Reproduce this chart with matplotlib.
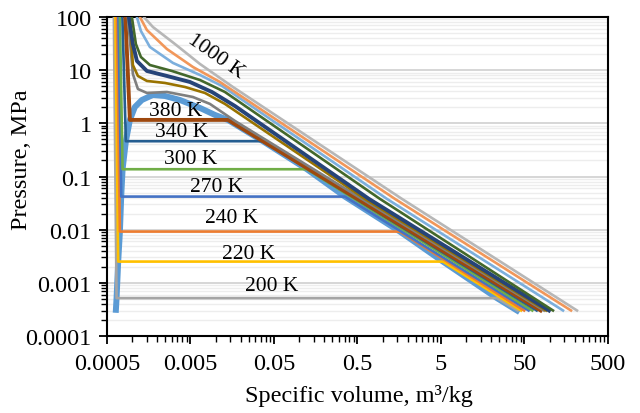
import matplotlib
matplotlib.use("Agg")
import matplotlib.pyplot as plt
from matplotlib.ticker import LogLocator, FixedLocator, FixedFormatter, NullFormatter

plt.rcParams['font.family'] = ['Liberation Serif', 'DejaVu Serif']

# saturation dome (v in m3/kg, P in MPa)
dome_v = [0.000641, 0.000653, 0.000683, 0.000716, 0.000742, 0.000771, 0.000844, 0.000943,
          0.001082, 0.001313, 0.001778, 0.002475, 0.003743, 0.006497, 0.009826, 0.01406,
          0.0369, 0.1242, 0.354, 1.61, 5.28, 23.4, 40.7]
dome_p = [0.000311, 0.000516, 0.00251, 0.00921, 0.0419, 0.137, 0.461, 1.16,
          2.03, 2.75, 3.42, 3.27, 2.75, 1.95, 1.44, 1.16,
          0.461, 0.137, 0.0419, 0.00921, 0.00251, 0.000516, 0.000302]

# subcritical isotherms: top of liquid branch, sat. liquid, sat. vapour, low-pressure end
v_200 = [0.000606, 0.000653, 23.4, 41.5]
p_200 = [100, 0.000516, 0.000516, 0.000302]
v_220 = [0.000632, 0.000683, 5.28, 45.5]
p_220 = [100, 0.00251, 0.00251, 0.000302]
v_240 = [0.000659, 0.000716, 1.61, 49.5]
p_240 = [100, 0.00921, 0.00921, 0.000302]
v_270 = [0.000687, 0.000742, 0.354, 56.0]
p_270 = [100, 0.0419, 0.0419, 0.000302]
v_300 = [0.000716, 0.000771, 0.1242, 62.0]
p_300 = [100, 0.137, 0.137, 0.000302]
v_340 = [0.000767, 0.000844, 0.0369, 70.0]
p_340 = [100, 0.461, 0.461, 0.000302]
v_380 = [0.000833, 0.000943, 0.01406, 78.0]
p_380 = [100, 1.16, 1.16, 0.000302]

# supercritical isotherms (unlabelled except 1000 K)
v_sc1 = [0.000892, 0.001024, 0.001176, 0.001507, 0.002616, 0.005356, 0.008559, 0.01706, 0.566, 85.6]
p_sc1 = [100, 8.48, 4.43, 3.73, 3.89, 3.13, 2.32, 1.11, 0.0379, 0.000302]
v_sc2 = [0.000943, 0.001024, 0.001176, 0.001507, 0.002475, 0.004296, 0.007459, 0.012946, 0.615, 90.5]
p_sc2 = [100, 12.5, 7.78, 6.27, 5.75, 4.83, 3.73, 2.32, 0.0379, 0.000302]
v_sc3 = [0.000917, 0.001024, 0.001144, 0.001507, 0.002616, 0.004932, 0.009046, 0.01706, 0.6867, 98.3]
p_sc3 = [100, 31.1, 14.9, 9.66, 7.78, 6.0, 3.89, 2.12, 0.0379, 0.000302]
v_sc4 = [0.000996, 0.001112, 0.001277, 0.001637, 0.003002, 0.006497, 0.012946, 0.930, 109.7]
p_sc4 = [100, 31.1, 17.7, 12.5, 9.66, 6.54, 3.89, 0.0379, 0.000302]
v_sc5 = [0.001144, 0.001277, 0.001637, 0.003085, 0.006497, 0.011918, 1.128, 144.6]
p_sc5 = [100, 54.6, 27.3, 13.7, 8.12, 5.05, 0.0379, 0.000302]
v_sc6 = [0.001242, 0.001507, 0.002616, 0.005356, 0.011277, 1.406, 180.3]
p_sc6 = [100, 56.9, 25.0, 11.5, 6.00, 0.0379, 0.000302]
v_1000 = [0.001387, 0.001778, 0.003261, 0.006497, 0.016144, 1.706, 212.7]
p_1000 = [100, 64.9, 31.1, 13.1, 4.83, 0.0379, 0.000302]

labels = ['200 K', '220 K', '240 K', '270 K', '300 K', '340 K', '380 K', '1000 K']
label_v = [0.0467, 0.0251, 0.01549, 0.01038, 0.00507, 0.003902, 0.003307, 0.0101]
label_p = [0.000889, 0.00351, 0.01718, 0.0657, 0.2143, 0.689, 1.733, 18.5]

fig = plt.figure(figsize=(6.4, 4.14), dpi=100)
ax = fig.add_axes([0.167, 0.186, 0.783, 0.7705])

ax.plot(dome_v, dome_p, color='#5B9BD5', lw=4.3, solid_joinstyle='round', zorder=2)
ax.plot(v_200, p_200, color='#A5A5A5', lw=1.9, zorder=3)
ax.plot(v_220, p_220, color='#FFC000', lw=1.9, zorder=3)
ax.plot(v_240, p_240, color='#ED7D31', lw=1.9, zorder=3)
ax.plot(v_270, p_270, color='#4472C4', lw=1.9, zorder=3)
ax.plot(v_300, p_300, color='#70AD47', lw=1.9, zorder=3)
ax.plot(v_340, p_340, color='#255E91', lw=1.9, zorder=3)
ax.plot(v_380, p_380, color='#9E480E', lw=2.8, zorder=3)
ax.plot(v_sc1, p_sc1, color='#7F7F7F', lw=1.9, zorder=3)
ax.plot(v_sc2, p_sc2, color='#997300', lw=1.9, zorder=3)
ax.plot(v_sc3, p_sc3, color='#264478', lw=2.8, zorder=3)
ax.plot(v_sc4, p_sc4, color='#43682B', lw=1.9, zorder=3)
ax.plot(v_sc5, p_sc5, color='#7CAFDD', lw=1.9, zorder=3)
ax.plot(v_sc6, p_sc6, color='#F1975A', lw=1.9, zorder=3)
ax.plot(v_1000, p_1000, color='#B7B7B7', lw=1.9, zorder=3)

for i in range(len(labels)):
    rot = -35 if labels[i] == '1000 K' else 0
    ax.text(label_v[i], label_p[i], labels[i], fontsize=15.5, ha='center', va='center',
            rotation=rot, zorder=4)

ax.set_xscale('log')
ax.set_yscale('log')
ax.set_xlim(0.0005, 500)
ax.set_ylim(0.0001, 100)

xt = [0.0005, 0.005, 0.05, 0.5, 5, 50, 500]
ax.xaxis.set_major_locator(FixedLocator(xt))
ax.xaxis.set_major_formatter(FixedFormatter(['0.0005', '0.005', '0.05', '0.5', '5', '50', '500']))
ax.xaxis.set_minor_locator(LogLocator(base=10, subs=(1, 1.5, 2, 2.5, 3, 3.5, 4, 4.5), numticks=20))
ax.xaxis.set_minor_formatter(NullFormatter())

yt = [0.0001, 0.001, 0.01, 0.1, 1, 10, 100]
ax.yaxis.set_major_locator(FixedLocator(yt))
ax.yaxis.set_major_formatter(FixedFormatter(['0.0001', '0.001', '0.01', '0.1', '1', '10', '100']))
ax.yaxis.set_minor_locator(LogLocator(base=10, subs=(2, 3, 4, 5, 6, 7, 8, 9), numticks=20))
ax.yaxis.set_minor_formatter(NullFormatter())

ax.grid(True, which='major', axis='y', color='#D0D0D0', lw=1.2, zorder=0)
ax.grid(True, which='minor', axis='y', color='#EDEDED', lw=1.0, zorder=0)
ax.set_axisbelow(True)

ax.tick_params(which='major', direction='out', length=6, width=1.3, labelsize=17.5)
ax.tick_params(axis='x', which='major', pad=6)
ax.tick_params(axis='y', which='major', pad=5)
ax.tick_params(which='minor', direction='out', length=4, width=1.0)
for s in ax.spines.values():
    s.set_linewidth(1.5)
    s.set_color('black')

ax.set_xlabel('Specific volume, m³/kg', fontsize=17.5)
ax.set_ylabel('Pressure, MPa', fontsize=17.5)
ax.xaxis.set_label_coords(0.503, -0.152)
ax.yaxis.set_label_coords(-0.15, 0.555)

fig.savefig('out.png', dpi=100)
